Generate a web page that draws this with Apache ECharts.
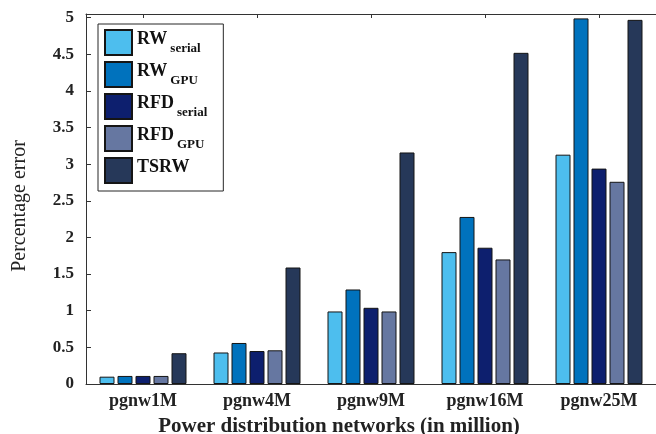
<!DOCTYPE html>
<html>
<head>
<meta charset="utf-8">
<script src="https://cdn.jsdelivr.net/npm/echarts@6/dist/echarts.min.js"></script>
<style>
  html, body { margin: 0; padding: 0; background: #fff; }
  #chart { width: 656px; height: 434px; }
</style>
</head>
<body>
<div id="chart"></div>
<script>
// Networks on the x axis
const networks = ['pgnw1M', 'pgnw4M', 'pgnw9M', 'pgnw16M', 'pgnw25M'];

// Percentage error for each method
const rwSerial  = [0.10, 0.43, 0.99, 1.80, 3.13];
const rwGpu     = [0.11, 0.56, 1.29, 2.28, 4.99];
const rfdSerial = [0.11, 0.45, 1.04, 1.86, 2.94];
const rfdGpu    = [0.11, 0.46, 0.99, 1.70, 2.76];
const tsrw      = [0.42, 1.59, 3.16, 4.52, 4.97];

// Legend entries: main text + subscript
const methods = [
  { name: 'RW_serial',  main: 'RW',   sub: 'serial', color: '#4DBEEE', data: rwSerial },
  { name: 'RW_GPU',     main: 'RW',   sub: 'GPU',    color: '#0072BD', data: rwGpu },
  { name: 'RFD_serial', main: 'RFD',  sub: 'serial', color: '#0D1F6E', data: rfdSerial },
  { name: 'RFD_GPU',    main: 'RFD',  sub: 'GPU',    color: '#6677A1', data: rfdGpu },
  { name: 'TSRW',       main: 'TSRW', sub: '',       color: '#263859', data: tsrw }
];

const serif = '"Liberation Serif", "Times New Roman", serif';
const axisColor = '#333333';

const chart = echarts.init(document.getElementById('chart'), null, { renderer: 'canvas' });

const byName = {};
methods.forEach(m => { byName[m.name] = m; });

chart.setOption({
  animation: false,
  backgroundColor: '#ffffff',
  grid: { left: 86, top: 14, width: 578, height: 370, containLabel: false },
  legend: {
    orient: 'vertical',
    left: 98,
    top: 24,
    padding: [5, 16, 7, 6],
    itemWidth: 27,
    itemHeight: 25,
    itemGap: 5,
    backgroundColor: '#ffffff',
    borderColor: '#262626',
    borderWidth: 1,
    borderRadius: 0,
    icon: 'rect',
    data: methods.map(m => m.name),
    formatter: function (name) {
      const m = byName[name];
      return m.sub ? '{a|' + m.main + '}{b|' + m.sub + '}' : '{a|' + m.main + '}';
    },
    textStyle: {
      fontFamily: serif,
      color: '#111',
      rich: {
        a: { fontFamily: serif, fontSize: 18, fontWeight: 'bold', color: '#111', lineHeight: 26, verticalAlign: 'top', padding: [1, 0, 0, 0] },
        b: { fontFamily: serif, fontSize: 13, fontWeight: 'bold', color: '#111', lineHeight: 26, verticalAlign: 'bottom', padding: [0, 0, 0, 3] }
      }
    }
  },
  xAxis: [
    {
      type: 'category',
      data: networks,
      position: 'bottom',
      axisLine: { show: true, lineStyle: { color: axisColor, width: 1 } },
      axisTick: { show: false },
      axisLabel: { fontFamily: serif, fontSize: 18, fontWeight: 'bold', color: '#222', margin: 8 }
    },
    {
      type: 'category',
      data: networks,
      position: 'top',
      axisLine: { show: true, lineStyle: { color: axisColor, width: 1 } },
      axisTick: { show: true, inside: true, alignWithLabel: true, length: 4, lineStyle: { color: axisColor } },
      axisLabel: { show: false }
    }
  ],
  yAxis: {
    type: 'value',
    min: 0,
    max: 5.05,
    interval: 0.5,
    axisLine: { show: true, lineStyle: { color: axisColor, width: 1 } },
    axisTick: { show: true, inside: true, length: 5, lineStyle: { color: axisColor } },
    splitLine: { show: false },
    axisLabel: {
      fontFamily: serif, fontSize: 17, fontWeight: 'bold', color: '#222', margin: 12,
      showMaxLabel: false,
      formatter: v => (Math.abs(v * 2 - Math.round(v * 2)) < 1e-6 ? String(v) : '')
    }
  },
  graphic: [
    {
      type: 'text',
      x: 20, y: 206,
      rotation: Math.PI / 2,
      style: {
        text: 'Percentage error',
        fontFamily: serif, fontSize: 20, fontWeight: 'normal',
        fill: '#222', align: 'center', verticalAlign: 'middle'
      }
    },
    {
      type: 'text',
      x: 339, y: 427,
      style: {
        text: 'Power distribution networks (in million)',
        fontFamily: serif, fontSize: 21, fontWeight: 'bold',
        fill: '#222', align: 'center', verticalAlign: 'middle'
      }
    }
  ],
  series: methods.map(m => ({
    name: m.name,
    type: 'bar',
    data: m.data,
    barWidth: 15,
    barGap: '20%',
    itemStyle: { color: m.color, borderColor: '#151515', borderWidth: 1 }
  }))
});
</script>
</body>
</html>
